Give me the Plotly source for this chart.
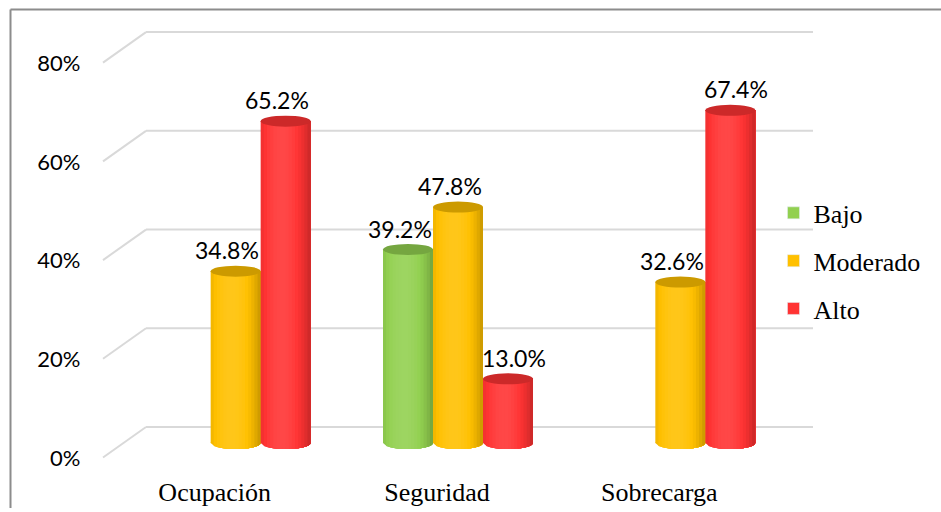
import math
import plotly.graph_objects as go

# ---------------- data ----------------
categories = ["Ocupación", "Seguridad", "Sobrecarga"]
series_names = ["Bajo", "Moderado", "Alto"]
bajo = [None, 39.2, None]
moderado = [34.8, 47.8, 32.6]
alto = [65.2, 13.0, 67.4]
y_ticks = [0, 20, 40, 60, 80]
y_tick_labels = ["0%", "20%", "40%", "60%", "80%"]

series_values = [bajo, moderado, alto]

# ---------------- style ----------------
W, H = 941, 512
base_colors = ["#92d050", "#ffc000", "#ff3333"]
grid_color = "#d9d9d9"
border_color = "#8c8c8c"
num_font = "Lato"
serif_font = "serif"

PLOT_L, PLOT_R = 124.5, 791.5      # bar plane, px
PLOT_T, PLOT_B = 20.0, 470.0
ZERO_PX, EIGHTY_PX = 446.5, 48.5   # bar plane y of 0% / 80%
DEPTH_DX = 21.5                    # back wall shift right (px)
BACK_DY = 16.0                     # back wall shift up (px)
FRONT_DY = -14.5                   # front (labels) shift down (px)
N_STRIPS = 16
BAR_W = 0.2249                      # in category units
TOP_HALF_H = 5.5
BOT_HALF_H = 6.0

label_nudge = {(1, 0): -9, (2, 0): -9, (0, 1): -8, (1, 1): -8, (2, 1): 6,
               (1, 2): -8, (2, 2): 6}


def shade(hex_color, f):
    r, g, b = (int(hex_color[i:i + 2], 16) for i in (1, 3, 5))
    def adj(c):
        if f <= 1:
            return int(round(c * f))
        return int(round(c + (255 - c) * (f - 1)))
    return "#%02x%02x%02x" % (adj(r), adj(g), adj(b))


def strip_factor(t):
    return 0.74 + 0.36 * math.cos((t - 0.42) * math.pi / 1.2) ** 0.8


px_per_unit = (ZERO_PX - EIGHTY_PX) / 80.0
y_range = [(ZERO_PX - PLOT_B) / px_per_unit, (ZERO_PX - PLOT_T) / px_per_unit]
px_per_cat = (PLOT_R - PLOT_L) / 3.0
bar_px = BAR_W * px_per_cat

fig = go.Figure()
shapes = []

for v in y_ticks:
    shapes.append(dict(type="line", xref="paper", yref="y", ysizemode="pixel", yanchor=v,
                       x0=(PLOT_L + DEPTH_DX) / W, x1=(PLOT_R + DEPTH_DX) / W,
                       y0=BACK_DY, y1=BACK_DY, line=dict(color=grid_color, width=2), layer="below"))
    shapes.append(dict(type="line", xref="paper", yref="y", ysizemode="pixel", yanchor=v,
                       x0=(PLOT_L - DEPTH_DX) / W, x1=(PLOT_L + DEPTH_DX) / W,
                       y0=FRONT_DY, y1=BACK_DY, line=dict(color=grid_color, width=2), layer="below"))

annotations = []
x_idx = list(range(len(categories)))
for j, (name, vals, col) in enumerate(zip(series_names, series_values, base_colors)):
    left = (j - 1.5) * BAR_W
    fig.add_trace(go.Bar(x=[None], y=[None], name=name, marker=dict(color=col),
                         legendgroup=name, showlegend=True, hoverinfo="skip"))
    sw = BAR_W / N_STRIPS
    for k in range(N_STRIPS):
        t = (k + 0.5) / N_STRIPS
        c = shade(col, strip_factor(t))
        fig.add_trace(go.Bar(x=x_idx, y=vals, offset=left + k * sw, width=BAR_W - k * sw,
                             marker=dict(color=c, line=dict(width=0)),
                             showlegend=False, legendgroup=name, hoverinfo="skip"))
    for i, v in enumerate(vals):
        if v is None:
            continue
        xc = i + left + BAR_W / 2
        half = bar_px / 2
        for k in range(N_STRIPS):
            t = (k + 0.5) / N_STRIPS
            c = shade(col, strip_factor(t))
            u0 = -half + k * bar_px / N_STRIPS
            u1 = half
            pts = []
            nseg = 14
            for s in range(nseg + 1):
                u = u1 - (u1 - u0) * s / nseg
                q = max(0.0, 1 - (u / half) ** 2)
                pts.append((u, -BOT_HALF_H * math.sqrt(q)))
            path = "M%.2f,0.5 L%.2f,0.5 " % (u0, u1) + " ".join("L%.2f,%.2f" % p for p in pts) + " Z"
            shapes.append(dict(type="path", xref="x", yref="y", xsizemode="pixel", ysizemode="pixel",
                               xanchor=xc, yanchor=0, path=path, fillcolor=c,
                               line=dict(width=0), layer="between"))
        shapes.append(dict(type="circle", xref="x", yref="y", ysizemode="pixel", yanchor=v,
                           x0=i + left, x1=i + left + BAR_W, y0=-TOP_HALF_H, y1=TOP_HALF_H,
                           fillcolor=shade(col, 0.8), line=dict(width=0), layer="above"))
        annotations.append(dict(x=xc, y=v, xref="x", yref="y", text="%.1f%%" % v,
                                showarrow=False, yanchor="middle", xanchor="center",
                                yshift=21, xshift=label_nudge.get((j, i), 0),
                                font=dict(family=num_font, size=23, color="#000000")))

shapes.append(dict(type="line", xref="paper", yref="paper", x0=10.5 / W, x1=1.0,
                   y0=(H - 9.5) / H, y1=(H - 9.5) / H, line=dict(color=border_color, width=2)))
shapes.append(dict(type="line", xref="paper", yref="paper", x0=10.5 / W, x1=10.5 / W,
                   y0=0, y1=(H - 9.5) / H, line=dict(color=border_color, width=2)))

fig.update_layout(
    width=W, height=H,
    margin=dict(l=0, r=0, t=0, b=0),
    paper_bgcolor="white", plot_bgcolor="rgba(0,0,0,0)",
    barmode="overlay",
    shapes=shapes,
    annotations=annotations,
    showlegend=True,
    legend=dict(x=0.822, y=(H - 263) / H, xanchor="left", yanchor="middle",
                traceorder="grouped", tracegroupgap=11,
                font=dict(family=serif_font, size=26, color="#000000"),
                bgcolor="rgba(0,0,0,0)"),
    xaxis=dict(domain=[PLOT_L / W, PLOT_R / W], range=[-0.5, 2.5],
               tickvals=x_idx, ticktext=categories, showgrid=False, zeroline=False,
               showline=False, ticks="", ticklabelshift=-21, ticklabelstandoff=8,
               tickfont=dict(family=serif_font, size=26, color="#000000")),
    yaxis=dict(domain=[(H - PLOT_B) / H, (H - PLOT_T) / H], range=y_range,
               tickvals=y_ticks, ticktext=y_tick_labels, showgrid=False, zeroline=False,
               showline=False, ticks="", ticklabelshift=15, ticklabelstandoff=43,
               tickfont=dict(family=num_font, size=22, color="#000000")),
)

fig.write_html("out.html")
